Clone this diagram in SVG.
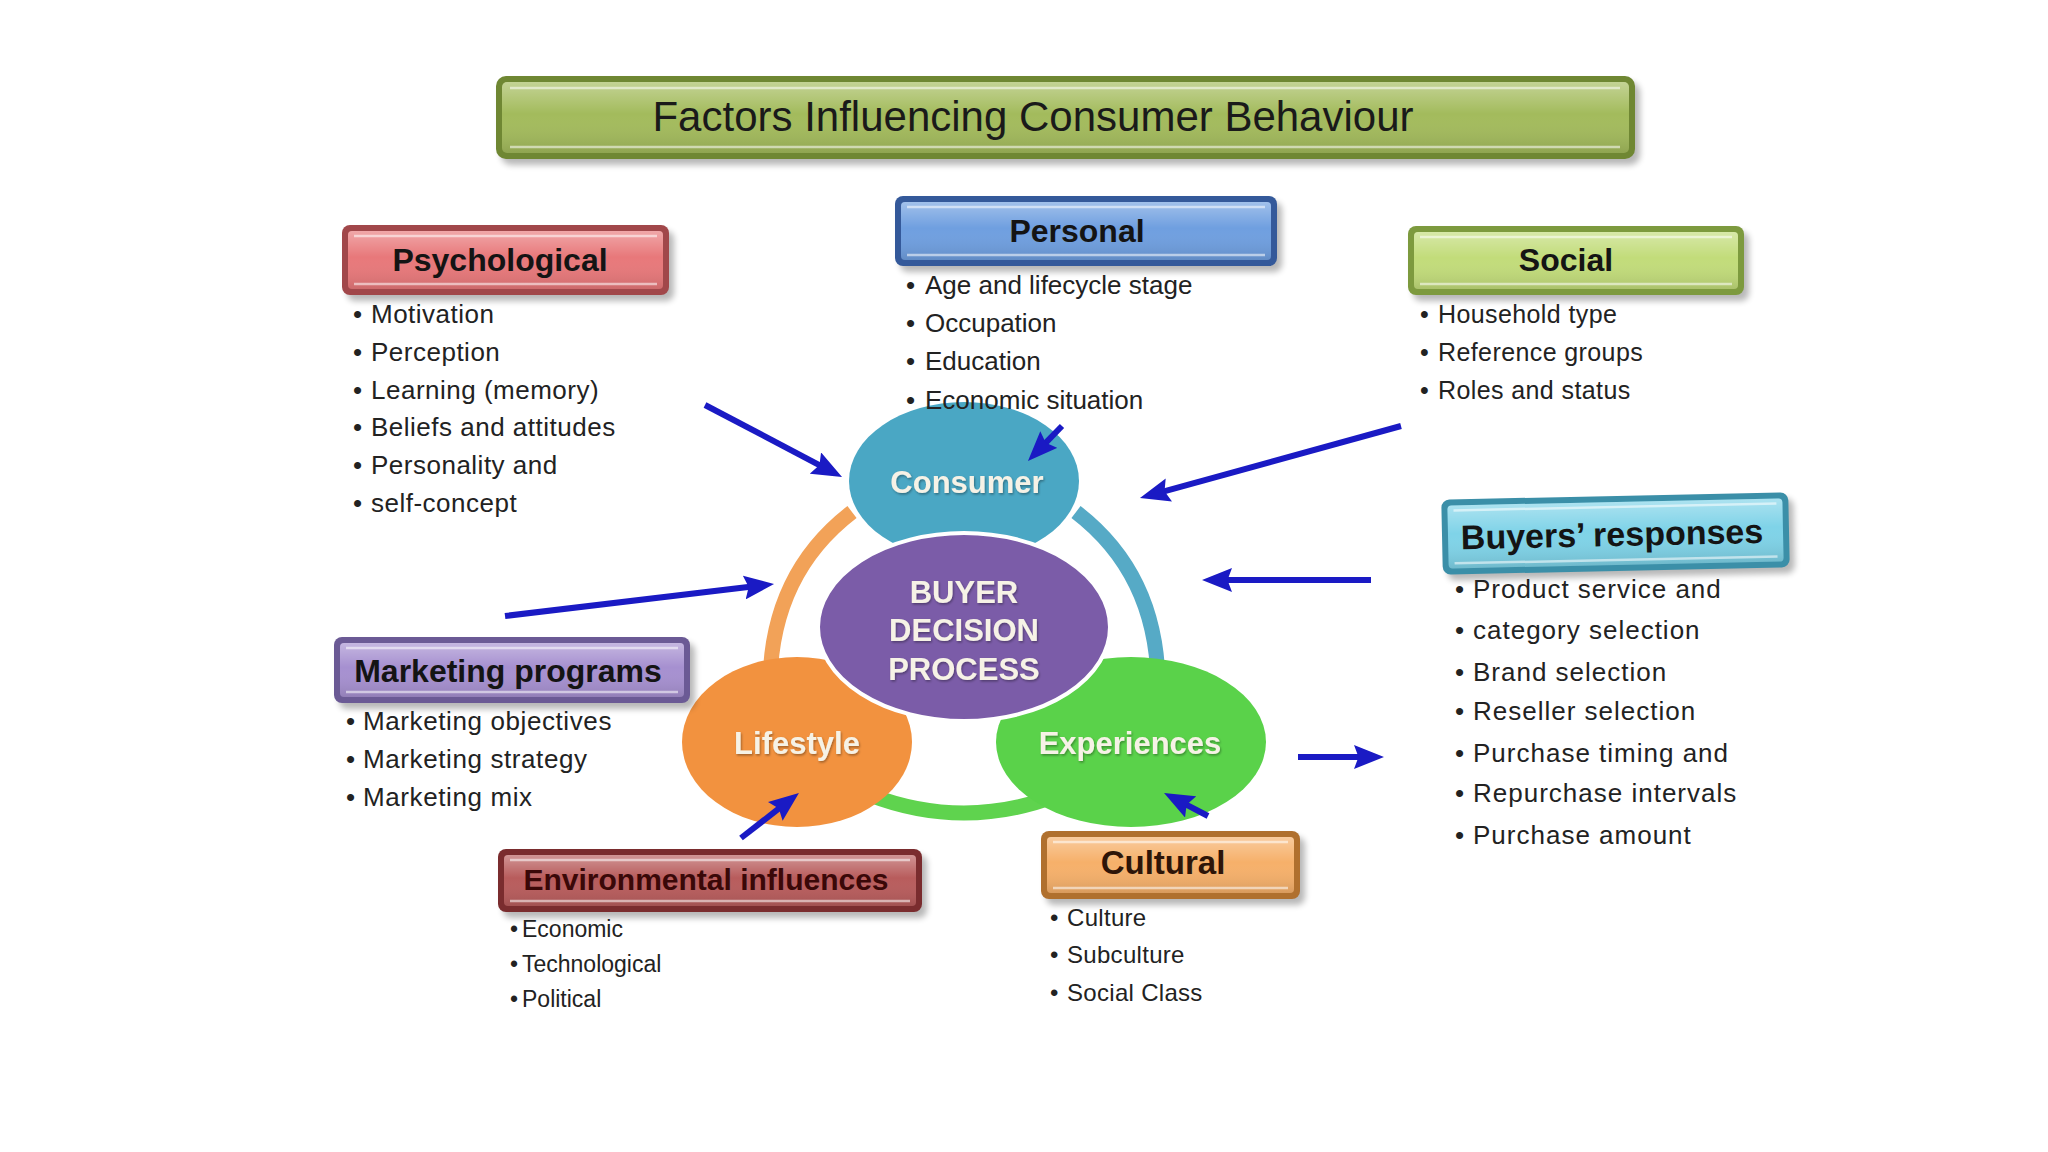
<svg xmlns="http://www.w3.org/2000/svg" width="2048" height="1152" viewBox="0 0 2048 1152">
<style>
.shadow{fill:#000;opacity:.28;filter:url(#blur)}
.gloss{fill:url(#gloss)}
.hl{stroke:#fff;stroke-opacity:.55;stroke-width:2.5;fill:none}
.hdr{font-family:"Liberation Sans",Arial,sans-serif;font-weight:bold;fill:#141414;text-anchor:middle}
.item{font-family:"Liberation Sans",Arial,sans-serif;fill:#222}
.lbl{font-family:"Liberation Sans",Arial,sans-serif;font-weight:bold;fill:#f6f2e6;text-anchor:middle;filter:url(#tsh)}
.ring{fill:none;stroke-width:15}
.arrow{stroke:#1a1ac4;stroke-width:6;fill:none;marker-end:url(#ah)}
</style>
<defs>
<filter id="blur" x="-10%" y="-20%" width="120%" height="140%"><feGaussianBlur stdDeviation="3"/></filter>
<filter id="tsh" x="-10%" y="-20%" width="120%" height="140%"><feDropShadow dx="1" dy="1.5" stdDeviation="1" flood-color="#000" flood-opacity=".35"/></filter>
<linearGradient id="gloss" x1="0" y1="0" x2="0" y2="1">
<stop offset="0" stop-color="#fff" stop-opacity=".35"/>
<stop offset=".45" stop-color="#fff" stop-opacity="0"/>
<stop offset="1" stop-color="#000" stop-opacity=".12"/>
</linearGradient>
<marker id="ah" viewBox="0 0 10 8" markerWidth="5" markerHeight="4" refX="2" refY="4" orient="auto" markerUnits="strokeWidth">
<path d="M0,0 L10,4 L0,8 L1.5,4 Z" fill="#1a1ac4"/>
</marker>
</defs>
<rect width="2048" height="1152" fill="#fff"/>

<g id="title">
<rect class="shadow" x="501" y="82" width="1139" height="83" rx="10"/>
<rect x="496" y="76" width="1139" height="83" rx="10" fill="#6f8733"/>
<rect x="502" y="82" width="1127" height="71" rx="5" fill="#a3bb5c"/>
<rect x="502" y="82" width="1127" height="71" rx="5" class="gloss"/>
<line class="hl" x1="510" y1="88" x2="1620" y2="88"/>
<line class="hl" x1="510" y1="147" x2="1620" y2="147"/>
<text x="1033" y="131" font-family="Liberation Sans, Arial, sans-serif" font-size="42" fill="#1a1a1a" text-anchor="middle">Factors Influencing Consumer Behaviour</text>
</g>

<g id="cycle">
<path class="ring" stroke="#f2a258" d="M852,512 C805,548 772,600 770,680"/>
<path class="ring" stroke="#56aac6" d="M1076,512 C1123,548 1156,600 1158,680"/>
<path class="ring" stroke="#5fd34e" d="M870,795 Q964,831 1058,795"/>
<ellipse cx="964" cy="481" rx="115" ry="79" fill="#4aa7c4"/>
<ellipse cx="797" cy="742" rx="115" ry="85" fill="#f2923f"/>
<ellipse cx="1131" cy="742" rx="135" ry="85" fill="#5ad24a"/>
<ellipse cx="964" cy="627" rx="146" ry="94" fill="#7b5ca8" stroke="#fff" stroke-width="4"/>
<text class="lbl" x="967" y="493" font-size="31">Consumer</text>
<text class="lbl" x="797" y="754" font-size="31">Lifestyle</text>
<text class="lbl" x="1130" y="754" font-size="31">Experiences</text>
<text class="lbl" x="964" y="603" font-size="31">BUYER</text>
<text class="lbl" x="964" y="641" font-size="31">DECISION</text>
<text class="lbl" x="964" y="680" font-size="31">PROCESS</text>
</g>

<g id="psychological">
<rect class="shadow" x="347" y="231" width="327" height="70" rx="8"/>
<rect x="342" y="225" width="327" height="70" rx="8" fill="#a1474a"/>
<rect x="348" y="231" width="315" height="58" rx="4" fill="#e8787a"/>
<rect x="348" y="231" width="315" height="58" rx="4" class="gloss"/>
<line class="hl" x1="354" y1="236" x2="657" y2="236"/>
<line class="hl" x1="354" y1="284" x2="657" y2="284"/>
<text class="hdr" x="500" y="271" font-size="32">Psychological</text>
<g class="item" font-size="26" letter-spacing=".5">
<text><tspan x="353" y="323">•</tspan><tspan x="371">Motivation</tspan></text>
<text><tspan x="353" y="361">•</tspan><tspan x="371">Perception</tspan></text>
<text><tspan x="353" y="399">•</tspan><tspan x="371">Learning (memory)</tspan></text>
<text><tspan x="353" y="436">•</tspan><tspan x="371">Beliefs and attitudes</tspan></text>
<text><tspan x="353" y="474">•</tspan><tspan x="371">Personality and</tspan></text>
<text><tspan x="353" y="512">•</tspan><tspan x="371">self-concept</tspan></text>
</g>
</g>

<g id="personal">
<rect class="shadow" x="900" y="202" width="382" height="70" rx="8"/>
<rect x="895" y="196" width="382" height="70" rx="8" fill="#34599a"/>
<rect x="901" y="202" width="370" height="58" rx="4" fill="#6f9fe0"/>
<rect x="901" y="202" width="370" height="58" rx="4" class="gloss"/>
<line class="hl" x1="907" y1="207" x2="1265" y2="207"/>
<line class="hl" x1="907" y1="255" x2="1265" y2="255"/>
<text class="hdr" x="1077" y="242" font-size="32">Personal</text>
<g class="item" font-size="26" letter-spacing="0">
<text><tspan x="906" y="294">•</tspan><tspan x="925">Age and lifecycle stage</tspan></text>
<text><tspan x="906" y="332">•</tspan><tspan x="925">Occupation</tspan></text>
<text><tspan x="906" y="370">•</tspan><tspan x="925">Education</tspan></text>
<text><tspan x="906" y="409">•</tspan><tspan x="925">Economic situation</tspan></text>
</g>
</g>

<g id="social">
<rect class="shadow" x="1413" y="232" width="336" height="69" rx="8"/>
<rect x="1408" y="226" width="336" height="69" rx="8" fill="#7d9a3e"/>
<rect x="1414" y="232" width="324" height="57" rx="4" fill="#c2dc7a"/>
<rect x="1414" y="232" width="324" height="57" rx="4" class="gloss"/>
<line class="hl" x1="1420" y1="237" x2="1732" y2="237"/>
<line class="hl" x1="1420" y1="284" x2="1732" y2="284"/>
<text class="hdr" x="1566" y="271" font-size="32">Social</text>
<g class="item" font-size="25" letter-spacing=".4">
<text><tspan x="1420" y="323">•</tspan><tspan x="1438">Household type</tspan></text>
<text><tspan x="1420" y="361">•</tspan><tspan x="1438">Reference groups</tspan></text>
<text><tspan x="1420" y="399">•</tspan><tspan x="1438">Roles and status</tspan></text>
</g>
</g>

<g id="buyers-responses">
<g transform="rotate(-1.2 1615 533)">
<rect class="shadow" x="1447" y="502" width="347" height="75" rx="8"/>
<rect x="1442" y="496" width="347" height="75" rx="8" fill="#3b8fa8"/>
<rect x="1448" y="502" width="335" height="63" rx="4" fill="#7fd3e8"/>
<rect x="1448" y="502" width="335" height="63" rx="4" class="gloss"/>
<line class="hl" x1="1454" y1="507" x2="1777" y2="507"/>
<line class="hl" x1="1454" y1="560" x2="1777" y2="560"/>
<text class="hdr" x="1612" y="546" font-size="34">Buyers’ responses</text>
</g>
<g class="item" font-size="26" letter-spacing="1">
<text><tspan x="1455" y="598">•</tspan><tspan x="1473">Product service and</tspan></text>
<text><tspan x="1455" y="639">•</tspan><tspan x="1473">category selection</tspan></text>
<text><tspan x="1455" y="681">•</tspan><tspan x="1473">Brand selection</tspan></text>
<text><tspan x="1455" y="720">•</tspan><tspan x="1473">Reseller selection</tspan></text>
<text><tspan x="1455" y="762">•</tspan><tspan x="1473">Purchase timing and</tspan></text>
<text><tspan x="1455" y="802">•</tspan><tspan x="1473">Repurchase intervals</tspan></text>
<text><tspan x="1455" y="844">•</tspan><tspan x="1473">Purchase amount</tspan></text>
</g>
</g>

<g id="marketing-programs">
<rect class="shadow" x="339" y="643" width="356" height="66" rx="8"/>
<rect x="334" y="637" width="356" height="66" rx="8" fill="#6b5a95"/>
<rect x="340" y="643" width="344" height="54" rx="4" fill="#a690d0"/>
<rect x="340" y="643" width="344" height="54" rx="4" class="gloss"/>
<line class="hl" x1="346" y1="648" x2="678" y2="648"/>
<line class="hl" x1="346" y1="692" x2="678" y2="692"/>
<text class="hdr" x="508" y="682" font-size="32">Marketing programs</text>
<g class="item" font-size="26" letter-spacing=".6">
<text><tspan x="346" y="730">•</tspan><tspan x="363">Marketing objectives</tspan></text>
<text><tspan x="346" y="768">•</tspan><tspan x="363">Marketing strategy</tspan></text>
<text><tspan x="346" y="806">•</tspan><tspan x="363">Marketing mix</tspan></text>
</g>
</g>

<g id="environmental-influences">
<rect class="shadow" x="503" y="855" width="424" height="63" rx="8"/>
<rect x="498" y="849" width="424" height="63" rx="8" fill="#7a2c2e"/>
<rect x="504" y="855" width="412" height="51" rx="4" fill="#b85c5c"/>
<rect x="504" y="855" width="412" height="51" rx="4" class="gloss"/>
<line class="hl" x1="510" y1="860" x2="910" y2="860"/>
<line class="hl" x1="510" y1="901" x2="910" y2="901"/>
<text class="hdr" x="706" y="890" font-size="30" style="fill:#3a0808">Environmental influences</text>
<g class="item" font-size="23" letter-spacing="0">
<text><tspan x="510" y="937">•</tspan><tspan x="522">Economic</tspan></text>
<text><tspan x="510" y="972">•</tspan><tspan x="522">Technological</tspan></text>
<text><tspan x="510" y="1007">•</tspan><tspan x="522">Political</tspan></text>
</g>
</g>

<g id="cultural">
<rect class="shadow" x="1046" y="837" width="259" height="68" rx="8"/>
<rect x="1041" y="831" width="259" height="68" rx="8" fill="#b0702e"/>
<rect x="1047" y="837" width="247" height="56" rx="4" fill="#f6b06a"/>
<rect x="1047" y="837" width="247" height="56" rx="4" class="gloss"/>
<line class="hl" x1="1053" y1="842" x2="1288" y2="842"/>
<line class="hl" x1="1053" y1="888" x2="1288" y2="888"/>
<text class="hdr" x="1163" y="874" font-size="33" style="fill:#2e1508">Cultural</text>
<g class="item" font-size="24" letter-spacing=".3">
<text><tspan x="1050" y="926">•</tspan><tspan x="1067">Culture</tspan></text>
<text><tspan x="1050" y="963">•</tspan><tspan x="1067">Subculture</tspan></text>
<text><tspan x="1050" y="1001">•</tspan><tspan x="1067">Social Class</tspan></text>
</g>
</g>

<g id="connectors">
<path class="arrow" d="M705,405 L820.8,465.8"/>
<path class="arrow" d="M1062,426 L1044.7,443.8"/>
<path class="arrow" d="M1401,426 L1163.1,491.6"/>
<path class="arrow" d="M1371,580 L1226,580"/>
<path class="arrow" d="M505,616 L750.2,586.8"/>
<path class="arrow" d="M741,838 L780,807.7"/>
<path class="arrow" d="M1208,816 L1185.3,804.1"/>
<path class="arrow" d="M1298,757 L1360,757"/>
</g>
</svg>
